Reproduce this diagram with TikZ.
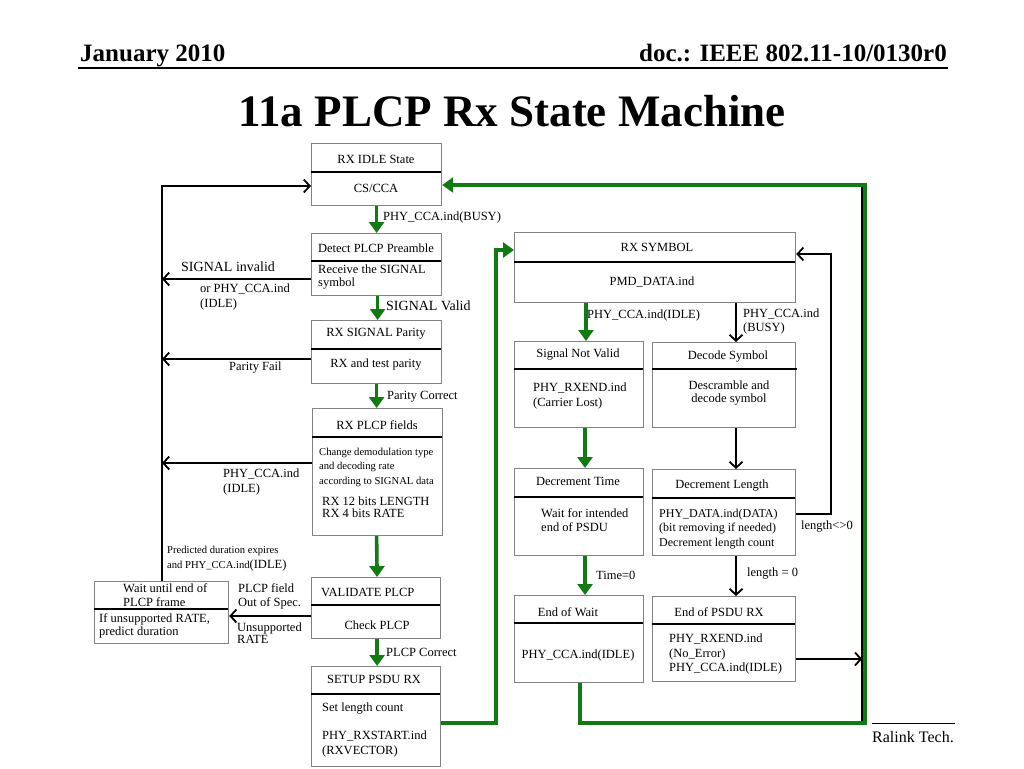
\documentclass[tikz,border=0pt]{standalone}
\usepackage{fontspec}
\setmainfont{Liberation Serif}
\usetikzlibrary{arrows.meta}
\definecolor{grn}{RGB}{18,122,18}
\definecolor{bxc}{RGB}{130,130,130}
\begin{document}
\begin{tikzpicture}[x=1pt,y=-1pt,
 box/.style={draw=bxc, line width=1.2pt, inner sep=0pt, anchor=north west},
 divl/.style={line width=2.6pt, draw=black},
 t/.style={inner sep=0pt, font=\fontsize{12.5}{14.5}\selectfont, align=center},
 tl/.style={t, align=left, anchor=west},
 ts/.style={tl, font=\fontsize{10.6}{14.5}\selectfont},
 tb/.style={tl, font=\fontsize{14}{16}\selectfont},
 gar/.style={draw=grn, line width=3.6pt, -{Triangle[length=11pt,width=15pt]}},
 bar/.style={draw=black, line width=1.8pt, -{Straight Barb[length=6pt,width=13pt,line width=1.8pt]}},
 gln/.style={draw=grn, line width=3.2pt},
 bln/.style={draw=black, line width=1.6pt},
]
\useasboundingbox[fill=white] (0,0) rectangle (1024,768);

% header
\node[anchor=base west, inner sep=0pt, font=\fontsize{25}{30}\selectfont\bfseries] (hd1) at (80,61) {January 2010};
\node[anchor=base east, inner sep=0pt, font=\fontsize{25}{30}\selectfont\bfseries] (hd2) at (947,61) {doc.: IEEE 802.11-10/0130r0};
\draw[line width=1.3pt] (78,68) -- (948,68);
\node[anchor=base, inner sep=0pt, font=\fontsize{45}{54}\selectfont\bfseries] (title) at (512,126) {11a PLCP Rx State Machine};

% left column boxes
\node[box, minimum width=130pt, minimum height=62pt] (b1) at (311,143) {};
\node[box, minimum width=130pt, minimum height=62pt] (b2) at (311,233) {};
\node[box, minimum width=130pt, minimum height=63pt] (b3) at (311,320) {};
\node[box, minimum width=130pt, minimum height=127pt] (b4) at (312,408) {};
\node[box, minimum width=129pt, minimum height=61pt] (b5) at (311,577) {};
\node[box, minimum width=129pt, minimum height=100pt] (b6) at (311,666) {};
\node[box, minimum width=134pt, minimum height=62pt] (bw) at (94,581) {};
% right boxes
\node[box, minimum width=281pt, minimum height=70pt] (rs) at (514,232) {};
\node[box, minimum width=129pt, minimum height=86pt] (sn) at (514,341) {};
\node[box, minimum width=143pt, minimum height=85pt] (ds) at (652,342) {};
\node[box, minimum width=129pt, minimum height=87pt] (dt) at (514,468) {};
\node[box, minimum width=143pt, minimum height=86pt] (dl) at (652,469) {};
\node[box, minimum width=129pt, minimum height=87pt] (ew) at (514,595) {};
\node[box, minimum width=143pt, minimum height=85pt] (ep) at (652,596) {};

% dividers
\draw[divl] (311,172) -- (441,172);
\draw[divl] (311,261) -- (441,261);
\draw[divl] (311,349) -- (441,349);
\draw[divl] (312,437) -- (442,437);
\draw[divl] (311,605) -- (440,605);
\draw[divl] (311,694) -- (440,694);
\draw[divl] (94,609) -- (228,609);
\draw[divl] (514,262) -- (795,262);
\draw[divl] (514,369) -- (643,369);
\draw[divl] (652,369) -- (797,369);
\draw[divl] (514,497) -- (643,497);
\draw[divl] (652,498) -- (795,498);
\draw[divl] (514,623) -- (643,623);
\draw[divl] (652,624) -- (795,624);

% box texts left
\node[t] (b1a) at (376,159) {RX IDLE State};
\node[t] (b1b) at (376,188) {CS/CCA};
\node[t] (b2a) at (376,248) {Detect PLCP Preamble};
\node[tl, font=\fontsize{12.5}{13.5}\selectfont] (b2b) at (318,277) {Receive the SIGNAL\\symbol};
\node[t] (b3a) at (376,334) {RX SIGNAL Parity};
\node[t] (b3b) at (376,365) {RX and test parity};
\node[t] (b4a) at (377,425) {RX PLCP fields};
\node[ts] (b4b) at (319,467) {Change demodulation type\\and decoding rate\\according to SIGNAL data};
\node[tl, font=\fontsize{12.5}{12.5}\selectfont] (b4c) at (322,507) {RX 12 bits LENGTH\\RX 4 bits RATE};
\node[tl] (b5a) at (321,592) {VALIDATE PLCP};
\node[t] (b5b) at (377,625) {Check PLCP};
\node[t] (b6a) at (374,679) {SETUP PSDU RX};
\node[tl] (b6b) at (322,709) {Set length count};
\node[tl] (b6c) at (322,744) {PHY\_RXSTART.ind\\(RXVECTOR)};
\node[tl, font=\fontsize{12.5}{14}\selectfont] (bwa) at (123,595) {Wait until end of\\PLCP frame};
\node[tl, font=\fontsize{12.5}{13}\selectfont] (bwb) at (99,626) {If unsupported RATE,\\predict duration};

% left labels
\node[tl] (l1) at (383,217) {PHY\_CCA.ind(BUSY)};
\node[tb] (l2) at (386,306) {SIGNAL Valid};
\node[tb] (l3) at (181,267) {SIGNAL invalid};
\node[tl] (l4) at (200,297) {or PHY\_CCA.ind\\(IDLE)};
\node[tl] (l5) at (229,368) {Parity Fail};
\node[tl] (l6) at (387,397) {Parity Correct};
\node[tl] (l7) at (223,482) {PHY\_CCA.ind\\(IDLE)};
\node[ts] (l8) at (167,551) {Predicted duration expires};
\node[ts] (l9) at (167,565) {and PHY\_CCA.ind{\fontsize{12.5}{14}\selectfont(IDLE)}};
\node[tl, font=\fontsize{12.5}{14}\selectfont] (l10) at (238,596) {PLCP field\\Out of Spec.};
\node[tl, font=\fontsize{12.5}{10.5}\selectfont] (l11) at (237,633) {Unsupported\\RATE};
\node[tl] (l12) at (386,652) {PLCP Correct};

% right texts
\node[t] (rsa) at (657,247) {RX SYMBOL};
\node[t] (rsb) at (652,282) {PMD\_DATA.ind};
\node[tl] (r1) at (587,315) {PHY\_CCA.ind(IDLE)};
\node[tl, font=\fontsize{12.5}{14}\selectfont] (r2) at (743,321) {PHY\_CCA.ind\\(BUSY)};
\node[t] (sna) at (578,355) {Signal Not Valid};
\node[tl, font=\fontsize{12.5}{15.5}\selectfont] (snb) at (533,396) {PHY\_RXEND.ind\\(Carrier Lost)};
\node[t] (dsa) at (728,357) {Decode Symbol};
\node[t, font=\fontsize{12.5}{13.5}\selectfont] (dsb) at (729,393) {Descramble and\\decode symbol};
\node[t] (dta) at (578,481) {Decrement Time};
\node[tl, font=\fontsize{12.5}{14.5}\selectfont] (dtb) at (541,520) {Wait for intended\\end of PSDU};
\node[t] (dla) at (722,486) {Decrement Length};
\node[tl, font=\fontsize{12}{14.2}\selectfont] (dlb) at (659,529) {PHY\_DATA.ind(DATA)\\(bit removing if needed)\\Decrement length count};
\node[tl] (r3) at (801,527) {length<>0};
\node[tl] (r4) at (596,575) {Time=0};
\node[tl] (r5) at (747,574) {length = 0};
\node[t] (ewa) at (568,612) {End of Wait};
\node[t] (ewb) at (578,655) {PHY\_CCA.ind(IDLE)};
\node[t] (epa) at (719,612) {End of PSDU RX};
\node[tl, font=\fontsize{12.5}{14.2}\selectfont] (epb) at (669,654) {PHY\_RXEND.ind\\(No\_Error)\\PHY\_CCA.ind(IDLE)};

% footer
\draw[line width=1pt] (872,723) -- (955,723);
\node[tl, font=\fontsize{16}{18}\selectfont] (ft) at (872,737) {Ralink Tech.};

% left connectors
\draw[gar] (b1.south) -- (b2.north);
\draw[gar] ([xshift=1pt]b2.south) -- ([xshift=1pt]b3.north);
\draw[gar] (b3.south) -- ([xshift=-1pt]b4.north);
\draw[gar] ([xshift=-1pt]b4.south) -- ([xshift=1pt]b5.north);
\draw[gar] ([xshift=1pt]b5.south) -- ([xshift=1pt]b6.north);
\draw[bar] ([xshift=68pt]bw.north west) |- ([yshift=-43pt]b1.north west);
\draw[bar] ([yshift=-46pt]b2.north west) -- ++(-149,0);
\draw[bar] ([yshift=-39pt]b3.north west) -- ++(-149,0);
\draw[bar] ([yshift=-55pt]b4.north west) -- ++(-150,0);
\draw[bar] ([yshift=-39pt]b5.north west) -- ([yshift=-35pt]bw.north east);

% to right column
\draw[gar] ([yshift=-57pt]b6.north east) -- ++(55,0) |- ([yshift=-18pt]rs.north west);

% right connectors
\draw[gar] ([xshift=72pt]rs.south west) -- ([xshift=72pt]sn.north west);
\draw[bar] ([xshift=222pt]rs.south west) -- ([xshift=84pt]ds.north west);
\draw[gar] ([xshift=71pt]sn.south west) -- ([xshift=71pt]dt.north west);
\draw[bar] ([xshift=84pt]ds.south west) -- ([xshift=84pt]dl.north west);
\draw[gar] ([xshift=71pt]dt.south west) -- ([xshift=71pt]ew.north west);
\draw[bar] ([xshift=84pt]dl.south west) -- ([xshift=84pt]ep.north west);
\draw[bar] ([yshift=-45pt]dl.north east) -- ++(35,0) |- ([yshift=-22pt]rs.north east);

% return path
\draw[bln] (862,185) -- (862,722);
\draw[gar] ([xshift=66pt]ew.south west) -- ++(0,40) -- ++(285,0) |- ([yshift=-42pt]b1.north east);
\draw[bar] ([yshift=-63pt]ep.north east) -- ++(66,0);
\end{tikzpicture}
\end{document}
